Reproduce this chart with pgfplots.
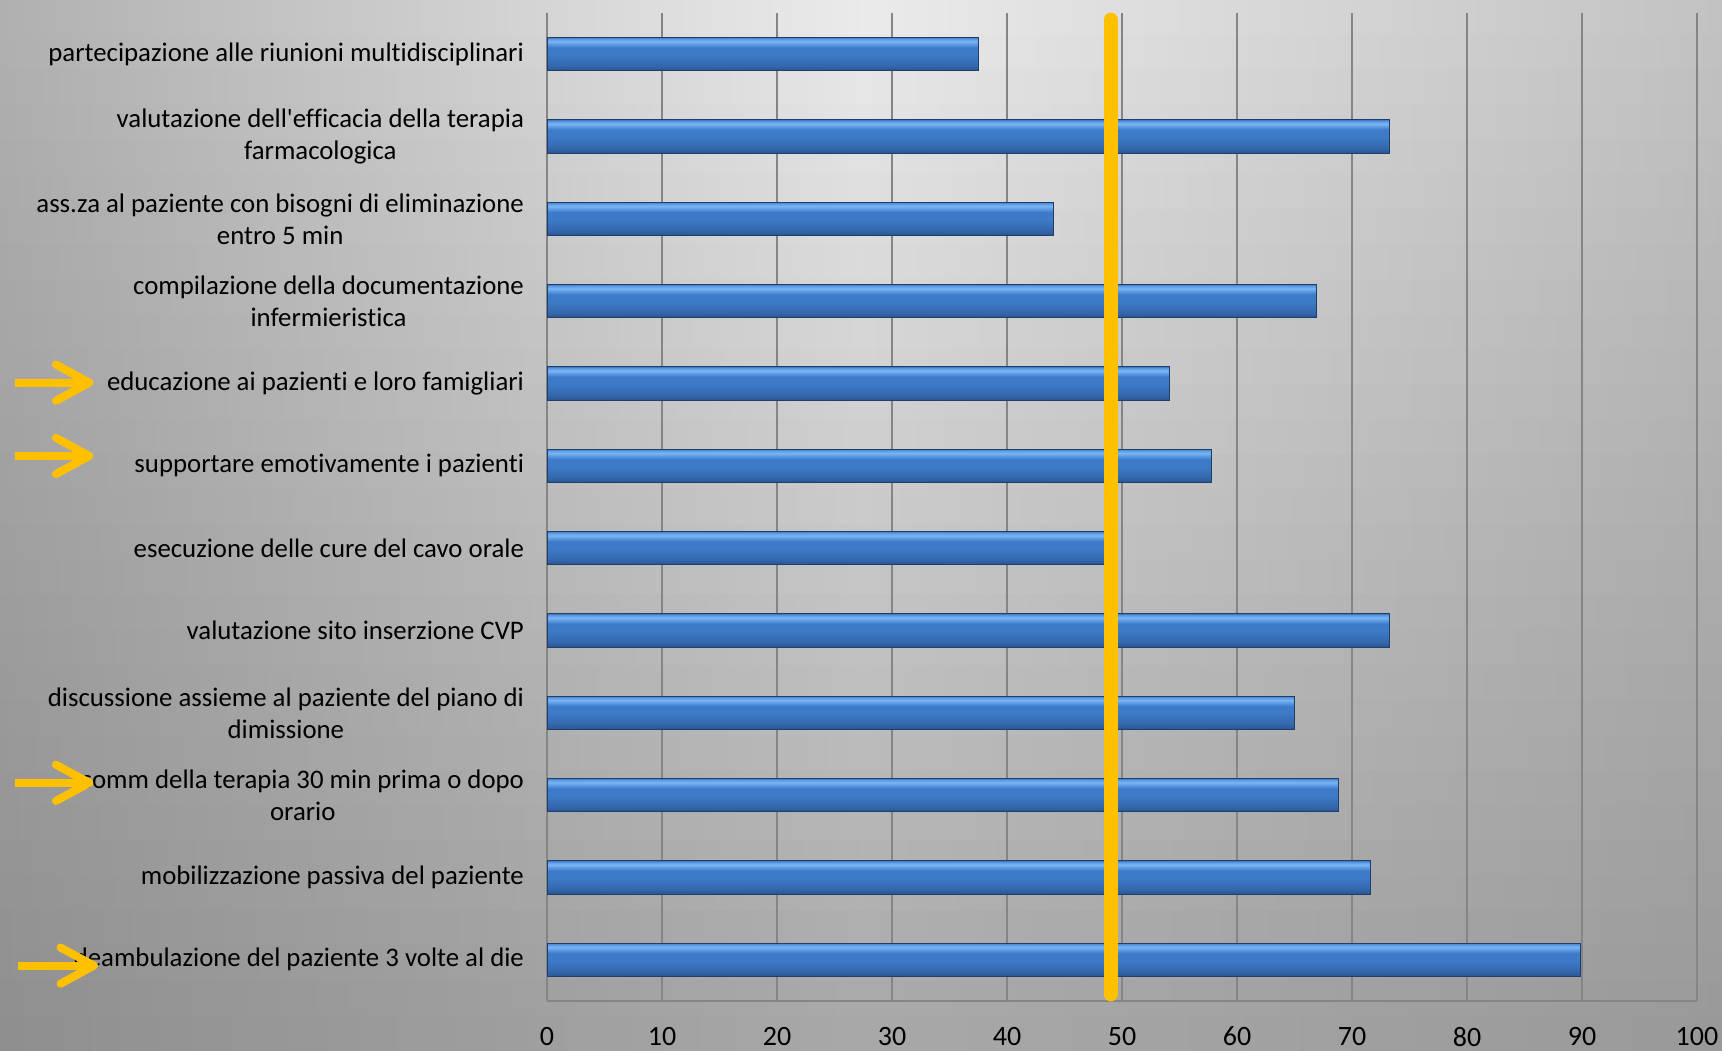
\documentclass[border=0pt]{standalone}
\usepackage{pgfplots}
\pgfplotsset{compat=1.18}
\usepackage{fontspec}
\setmainfont{Carlito}[Ligatures={NoCommon}]

\definecolor{barTop}{HTML}{7AB5F4}
\definecolor{barHi}{HTML}{5C9BE2}
\definecolor{barMid}{HTML}{3D7BC8}
\definecolor{barLow}{HTML}{3468AD}
\definecolor{barBot}{HTML}{2A558F}
\definecolor{barEdge}{HTML}{1F3E6A}
\definecolor{gold}{HTML}{FFC000}
\definecolor{gridc}{HTML}{858585}
\colorlet{topL}{black!31}
\colorlet{topC}{black!8}
\colorlet{topR}{black!24}
\colorlet{botL}{black!44}
\colorlet{botC}{black!34}
\colorlet{botR}{black!40}

\pgfdeclareverticalshading{barshade}{100bp}{
  color(0bp)=(barBot); color(25bp)=(barBot); color(33bp)=(barLow);
  color(50bp)=(barMid); color(60bp)=(barMid); color(65bp)=(barHi);
  color(69bp)=(barTop); color(73bp)=(barHi); color(75bp)=(barMid); color(100bp)=(barMid)}

\begin{document}
\begin{tikzpicture}
\useasboundingbox (0,0) rectangle (861pt,525pt);
\foreach \i in {0,...,29}{
  \pgfmathtruncatemacro\p{round(100*\i/29)}
  \colorlet{cL}{botL!\p!topL}
  \colorlet{cC}{botC!\p!topC}
  \colorlet{cR}{botR!\p!topR}
  \shade[left color=cL, right color=cR, middle color=cC]
    ({0pt},{525pt-\i*17.5pt}) rectangle ({861pt},{525pt-(\i+1)*17.5pt-0.4pt});
}
\begin{axis}[
  at={(273.5pt,24.5pt)}, anchor=south west,
  scale only axis, width=575pt, height=494pt,
  xmin=0, xmax=100, ymin=-0.5, ymax=11.5, y dir=reverse,
  xtick={0,10,...,100}, ytick={0,...,11},
  yticklabels={
    partecipazione alle riunioni multidisciplinari,
    {valutazione dell\textquotesingle efficacia della terapia\\farmacologica},
    {ass.za al paziente con bisogni di eliminazione\\entro 5 min},
    {compilazione della documentazione\\infermieristica},
    educazione ai pazienti e loro famigliari,
    supportare emotivamente i pazienti,
    esecuzione delle cure del cavo orale,
    valutazione sito inserzione CVP,
    {discussione assieme al paziente del piano di\\dimissione},
    {somm della terapia 30 min prima o dopo\\orario},
    mobilizzazione passiva del paziente,
    deambulazione del paziente 3 volte al die},
  xmajorgrids, grid style={gridc, line width=0.9pt},
  axis x line*=bottom, axis y line*=left,
  axis line style={gridc, line width=0.9pt},
  major tick length=0pt, tick style={draw=none},
  /pgf/number format/assume math mode=true,
  xticklabel style={font=\fontsize{14}{16}\selectfont, yshift=-9.5pt},
  yticklabel style={font=\fontsize{13.4}{16}\selectfont, align=center, xshift=-8pt},
  clip=false,
  mybar/.style={xbar, bar width=16.6pt, draw=barEdge, line width=0.5pt,
    shade, shading=barshade, forget plot},
]
\addplot[mybar] coordinates {(37.5,0)};
\addplot[mybar] coordinates {(73.3,1)};
\addplot[mybar] coordinates {(44.0,2)};
\addplot[mybar] coordinates {(66.9,3)};
\addplot[mybar] coordinates {(54.1,4)};
\addplot[mybar] coordinates {(57.8,5)};
\addplot[mybar] coordinates {(49.3,6)};
\addplot[mybar] coordinates {(73.3,7)};
\addplot[mybar] coordinates {(65.0,8)};
\addplot[mybar] coordinates {(68.8,9)};
\addplot[mybar] coordinates {(71.6,10)};
\addplot[mybar] coordinates {(89.9,11)};
\addplot[gold, line width=7pt, line cap=round, forget plot]
  coordinates {(49,-0.42) (49,11.42)};
% annotation arrows
\draw[gold, line width=4pt] (axis cs:-46.3,3.99) -- (axis cs:-39.8,3.99);
\draw[gold, line width=4pt, line cap=round, line join=round]
  (axis cs:-42.7,3.77) -- (axis cs:-39.8,3.99) -- (axis cs:-42.7,4.21);
\draw[gold, line width=4pt] (axis cs:-46.3,4.88) -- (axis cs:-39.8,4.88);
\draw[gold, line width=4pt, line cap=round, line join=round]
  (axis cs:-42.7,4.66) -- (axis cs:-39.8,4.88) -- (axis cs:-42.7,5.10);
\draw[gold, line width=4pt] (axis cs:-46.3,8.85) -- (axis cs:-39.8,8.85);
\draw[gold, line width=4pt, line cap=round, line join=round]
  (axis cs:-42.7,8.63) -- (axis cs:-39.8,8.85) -- (axis cs:-42.7,9.07);
\draw[gold, line width=4pt] (axis cs:-46.0,11.07) -- (axis cs:-39.4,11.07);
\draw[gold, line width=4pt, line cap=round, line join=round]
  (axis cs:-42.3,10.85) -- (axis cs:-39.4,11.07) -- (axis cs:-42.3,11.29);
\end{axis}
\end{tikzpicture}
\end{document}
